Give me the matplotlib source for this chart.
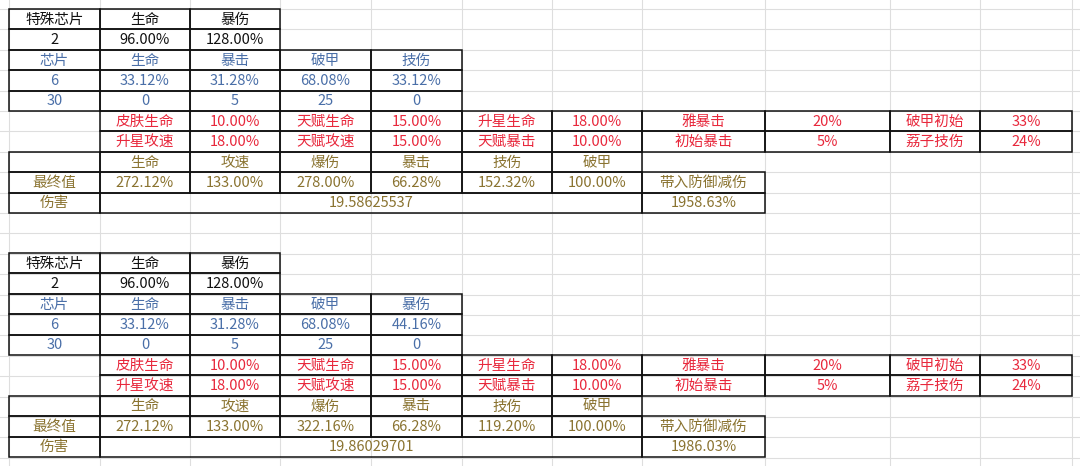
import matplotlib.pyplot as plt
from matplotlib.patches import Rectangle

plt.rcParams['font.family'] = ['Noto Sans CJK SC', 'DejaVu Sans']

# column edges and row edges (pixels) of the sheet
col_x = [9, 100, 190, 280, 371, 462, 552, 642, 765, 890, 980, 1072]
row_h = 20.4
block_tops = [9, 253]

BLACK = '#111111'
BLUE = '#4a6fa8'
RED = '#e8283c'
GOLD = '#8a7330'

# data of the two blocks
special_head = ['特殊芯片', '生命', '暴伤']
special_vals = ['2', '96.00%', '128.00%']
chip_heads = [['芯片', '生命', '暴击', '破甲', '技伤'],
              ['芯片', '生命', '暴击', '破甲', '暴伤']]
chip_vals = [['6', '33.12%', '31.28%', '68.08%', '33.12%'],
             ['6', '33.12%', '31.28%', '68.08%', '44.16%']]
chip_counts = ['30', '0', '5', '25', '0']
bonus_row1 = ['皮肤生命', '10.00%', '天赋生命', '15.00%', '升星生命', '18.00%', '雅暴击', '20%', '破甲初始', '33%']
bonus_row2 = ['升星攻速', '18.00%', '天赋攻速', '15.00%', '天赋暴击', '10.00%', '初始暴击', '5%', '荔子技伤', '24%']
final_head = ['', '生命', '攻速', '爆伤', '暴击', '技伤', '破甲']
final_vals = [['最终值', '272.12%', '133.00%', '278.00%', '66.28%', '152.32%', '100.00%', '带入防御减伤'],
              ['最终值', '272.12%', '133.00%', '322.16%', '66.28%', '119.20%', '100.00%', '带入防御减伤']]
damage = ['19.58625537', '19.86029701']
damage_pct = ['1958.63%', '1986.03%']

fig = plt.figure(figsize=(10.8, 4.66), dpi=100)
ax = fig.add_axes([0, 0, 1, 1])
ax.set_xlim(0, 1080)
ax.set_ylim(466, 0)
ax.axis('off')

# light sheet grid
y = 9
while y < 466:
    ax.plot([0, 1080], [y, y], color='#dedede', lw=0.8, zorder=0)
    y += row_h
for x in col_x:
    ax.plot([x, x], [0, 466], color='#dedede', lw=0.8, zorder=0)


def cell(c0, c1, r, top, text, color, border=True):
    x0, x1 = col_x[c0], col_x[c1 + 1]
    y0 = top + r * row_h
    if border:
        ax.add_patch(Rectangle((x0, y0), x1 - x0, row_h, fill=False, ec=BLACK, lw=1.1, zorder=2))
    if text:
        ax.text((x0 + x1) / 2, y0 + row_h / 2 + 0.5, text, color=color, ha='center', va='center',
                fontsize=10.5, zorder=3)


for b, top in enumerate(block_tops):
    for i, t in enumerate(special_head):
        cell(i, i, 0, top, t, BLACK)
    for i, t in enumerate(special_vals):
        cell(i, i, 1, top, t, BLACK)
    for i, t in enumerate(chip_heads[b]):
        cell(i, i, 2, top, t, BLUE)
    for i, t in enumerate(chip_vals[b]):
        cell(i, i, 3, top, t, BLUE)
    for i, t in enumerate(chip_counts):
        cell(i, i, 4, top, t, BLUE)
    for i, t in enumerate(bonus_row1):
        cell(i + 1, i + 1, 5, top, t, RED)
    for i, t in enumerate(bonus_row2):
        cell(i + 1, i + 1, 6, top, t, RED)
    for i, t in enumerate(final_head):
        cell(i, i, 7, top, t, GOLD)
    for i, t in enumerate(final_vals[b]):
        cell(i, i, 8, top, t, GOLD)
    cell(0, 0, 9, top, '伤害', GOLD)
    cell(1, 6, 9, top, damage[b], GOLD)
    cell(7, 7, 9, top, damage_pct[b], GOLD)

fig.savefig('out.png', dpi=100, facecolor='white')
